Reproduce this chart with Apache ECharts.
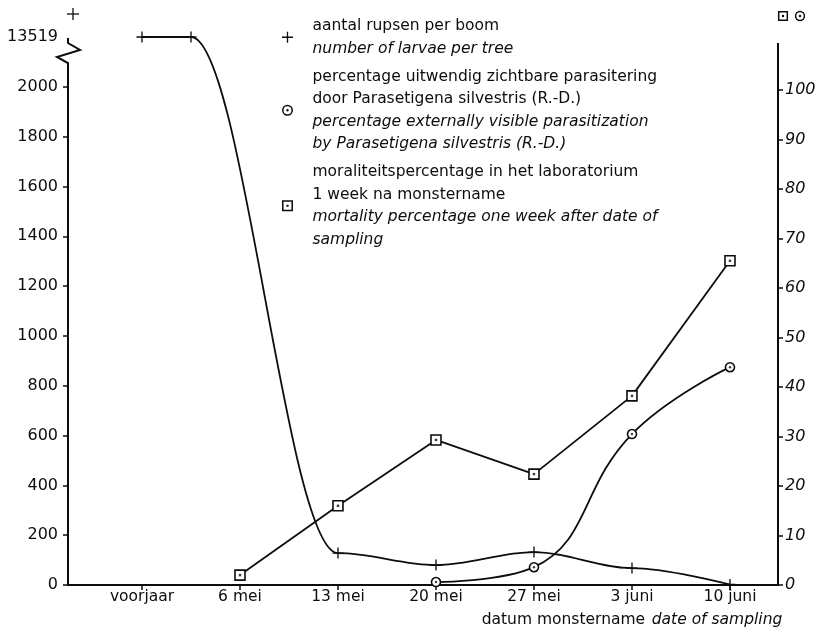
<!DOCTYPE html>
<html><head><meta charset="utf-8">
<script src="https://cdn.jsdelivr.net/npm/echarts@6/dist/echarts.min.js"></script>
<style>html,body{margin:0;padding:0;background:#fff}#c{width:818px;height:630px}</style>
</head><body><div id="c"></div>
<script>
// ---- data ----
const categories = ['voorjaar', '6 mei', '13 mei', '20 mei', '27 mei', '3 juni', '10 juni'];
const categoryPos = [0, 1, 2, 3, 4, 5, 6];
const larvaeX = [0, 0.5, 2, 3, 4, 5, 6];
const larvae = [13519, 13519, 128, 80, 132, 68, 2];
const parasitX = [3, 4, 5, 6];
const parasit = [0.6, 3.6, 30.5, 44];
const mortX = [1, 2, 3, 4, 5, 6];
const mortality = [2, 16, 29.3, 22.4, 38.2, 65.5];
const leftTicks = [0, 200, 400, 600, 800, 1000, 1200, 1400, 1600, 1800, 2000];
const rightTicks = [0, 10, 20, 30, 40, 50, 60, 70, 80, 90, 100];
const breakValue = 13519;     // value shown above the axis break
const breakAt = 2200;         // position on the broken left axis where it is drawn

const legendText = {
  larvae: ['aantal rupsen per boom', 'number of larvae per tree'],
  parasit: ['percentage uitwendig zichtbare parasitering', 'door Parasetigena silvestris (R.-D.)',
            'percentage externally visible parasitization', 'by Parasetigena silvestris (R.-D.)'],
  mort: ['moraliteitspercentage in het laboratorium', '1 week na monstername',
         'mortality percentage one week after date of', 'sampling']
};
const legendItalic = { larvae: [1], parasit: [2, 3], mort: [2, 3] };

function leftPos(v) { return v > 2000 ? breakAt : v; }

const FONT = 'DejaVu Sans';
const INK = '#0d0d0d';
const PLUS = 'M4.4,0H5.6V4.4H10V5.6H5.6V10H4.4V5.6H0V4.4H4.4Z';
const RINGDOT = 'M5,0A5,5,0,1,1,5,10A5,5,0,1,1,5,0ZM5,1.4A3.6,3.6,0,1,0,5,8.6A3.6,3.6,0,1,0,5,1.4ZM5,3.9A1.1,1.1,0,1,1,5,6.1A1.1,1.1,0,1,1,5,3.9Z';
const SQDOT = 'M0,0H10V10H0ZM1.4,1.4V8.6H8.6V1.4ZM4,4H6V6H4Z';

const chart = echarts.init(document.getElementById('c'), null, { renderer: 'canvas' });

const tickStyle = { color: INK, width: 1.5 };
const labelBase = { color: INK, fontFamily: FONT, fontSize: 16 };
const rich = {
  n: { fontFamily: FONT, fontSize: 15.5, lineHeight: 22.5, color: INK },
  i: { fontFamily: FONT, fontSize: 15.5, lineHeight: 22.5, color: INK, fontStyle: 'italic' }
};

const option = {
  animation: false,
  backgroundColor: '#fff',
  grid: { left: 68, right: 40, top: 37, bottom: 45, containLabel: false, outerBoundsMode: 'none' },
  legend: {
    orient: 'vertical', left: 277, top: 13, itemGap: 12,
    itemWidth: 40, itemHeight: 11, selectedMode: false, symbolKeepAspect: true,
    data: [
      { name: 'larvae', icon: 'path://' + PLUS, itemStyle: { color: INK, borderWidth: 0 } },
      { name: 'parasit', icon: 'path://' + RINGDOT, itemStyle: { color: INK, borderWidth: 0 } },
      { name: 'mort', icon: 'path://' + SQDOT, itemStyle: { color: INK, borderWidth: 0 } }
    ],
    formatter: function (name) {
      return legendText[name].map(function (t, k) {
        return (legendItalic[name].indexOf(k) >= 0 ? '{i|' : '{n|') + t + '}';
      }).join('\n');
    },
    textStyle: { rich: rich, color: INK }
  },
  xAxis: {
    type: 'value', min: -0.755, max: 6.49,
    axisLine: { show: true, onZero: false, lineStyle: { color: INK, width: 2 } },
    axisTick: { show: true, customValues: categoryPos, length: 5, lineStyle: tickStyle },
    axisLabel: { customValues: categoryPos, formatter: function (v) { return categories[Math.round(v)]; },
                 margin: 4, color: INK, fontFamily: FONT, fontSize: 15.5 },
    splitLine: { show: false }
  },
  yAxis: [
    {
      type: 'value', min: 0, max: breakAt, position: 'left',
      axisLine: { show: false, onZero: false },
      axisTick: { show: true, customValues: leftTicks, length: 5, lineStyle: tickStyle },
      axisLabel: Object.assign({ customValues: leftTicks.concat([breakAt]), margin: 10,
        formatter: function (v) { return v === breakAt ? String(breakValue) : String(v); } }, labelBase),
      splitLine: { show: false }
    },
    {
      type: 'value', min: 0, max: 110.7, position: 'right',
      axisLine: { show: false, onZero: false },
      axisTick: { show: true, customValues: rightTicks, length: 5, lineStyle: tickStyle },
      axisLabel: Object.assign({ customValues: rightTicks, margin: 7, fontStyle: 'italic' }, labelBase),
      splitLine: { show: false }
    }
  ],
  series: [
    {
      name: 'larvae', type: 'line', yAxisIndex: 0,
      data: larvaeX.map(function (x, k) { return [x, leftPos(larvae[k])]; }),
      smooth: 0.35, smoothMonotone: 'x',
      symbol: 'path://' + PLUS, symbolSize: 11,
      lineStyle: { color: INK, width: 1.8 }, itemStyle: { color: INK }, z: 3
    },
    {
      name: 'parasit', type: 'line', yAxisIndex: 1,
      data: parasitX.map(function (x, k) { return [x, parasit[k]]; }),
      smooth: 0.45,
      symbol: 'circle', symbolSize: 9,
      lineStyle: { color: INK, width: 1.8 },
      itemStyle: { color: '#fff', borderColor: INK, borderWidth: 1.6 }, z: 4
    },
    {
      name: 'mort', type: 'line', yAxisIndex: 1,
      data: mortX.map(function (x, k) { return [x, mortality[k]]; }),
      symbol: 'rect', symbolSize: 10,
      lineStyle: { color: INK, width: 1.8 },
      itemStyle: { color: '#fff', borderColor: INK, borderWidth: 1.6 }, z: 4
    },
    {
      name: 'parasitDot', type: 'scatter', yAxisIndex: 1, silent: true,
      data: parasitX.map(function (x, k) { return [x, parasit[k]]; }),
      symbol: 'circle', symbolSize: 2.4, itemStyle: { color: INK }, z: 6
    },
    {
      name: 'mortDot', type: 'scatter', yAxisIndex: 1, silent: true,
      data: mortX.map(function (x, k) { return [x, mortality[k]]; }),
      symbol: 'rect', symbolSize: 2.4, itemStyle: { color: INK }, z: 6
    }
  ]
};
chart.setOption(option);

// axis lines (with break), axis identifiers and x-axis title
const ax = chart.convertToPixel({ xAxisIndex: 0 }, -0.755);
const axR = chart.convertToPixel({ xAxisIndex: 0 }, 6.49);
const yb = chart.convertToPixel({ yAxisIndex: 0 }, 0);
const yt = chart.convertToPixel({ yAxisIndex: 0 }, breakAt);
const yRTop = chart.convertToPixel({ yAxisIndex: 1 }, 109.5);
const xName = chart.convertToPixel({ xAxisIndex: 0 }, 5);

function plusIcon(cx, cy, s) {
  return { type: 'group', silent: true, children: [
    { type: 'rect', shape: { x: cx - s / 2, y: cy - 0.65, width: s, height: 1.3 }, style: { fill: INK } },
    { type: 'rect', shape: { x: cx - 0.65, y: cy - s / 2, width: 1.3, height: s }, style: { fill: INK } }
  ] };
}
function squareIcon(cx, cy) {
  return { type: 'group', silent: true, children: [
    { type: 'rect', shape: { x: cx - 4.3, y: cy - 4.3, width: 8.6, height: 8.6 }, style: { fill: '#fff', stroke: INK, lineWidth: 1.5 } },
    { type: 'rect', shape: { x: cx - 1.1, y: cy - 1.1, width: 2.2, height: 2.2 }, style: { fill: INK } }
  ] };
}
function ringIcon(cx, cy) {
  return { type: 'group', silent: true, children: [
    { type: 'circle', shape: { cx: cx, cy: cy, r: 4.4 }, style: { fill: '#fff', stroke: INK, lineWidth: 1.5 } },
    { type: 'circle', shape: { cx: cx, cy: cy, r: 1.2 }, style: { fill: INK } }
  ] };
}

chart.setOption({
  graphic: [
    { type: 'polyline', silent: true,
      shape: { points: [[ax, yb + 1], [ax, yt + 26], [ax - 11, yt + 20], [ax + 12, yt + 13], [ax, yt + 6], [ax, yt + 1]] },
      style: { stroke: INK, lineWidth: 2, fill: null } },
    { type: 'line', silent: true,
      shape: { x1: axR, y1: yb + 1, x2: axR, y2: yRTop },
      style: { stroke: INK, lineWidth: 2 } },
    plusIcon(ax + 5, 14, 12),
    squareIcon(axR + 5, 16),
    ringIcon(axR + 22, 16),
    { type: 'text', silent: true,
      style: { text: '{n|datum monstername}  {i|date of sampling}', x: xName, y: 620,
               align: 'center', verticalAlign: 'middle',
               rich: { n: { fontFamily: FONT, fontSize: 15.5, fill: INK },
                       i: { fontFamily: FONT, fontSize: 15.5, fill: INK, fontStyle: 'italic' } } } }
  ]
});
</script></body></html>
